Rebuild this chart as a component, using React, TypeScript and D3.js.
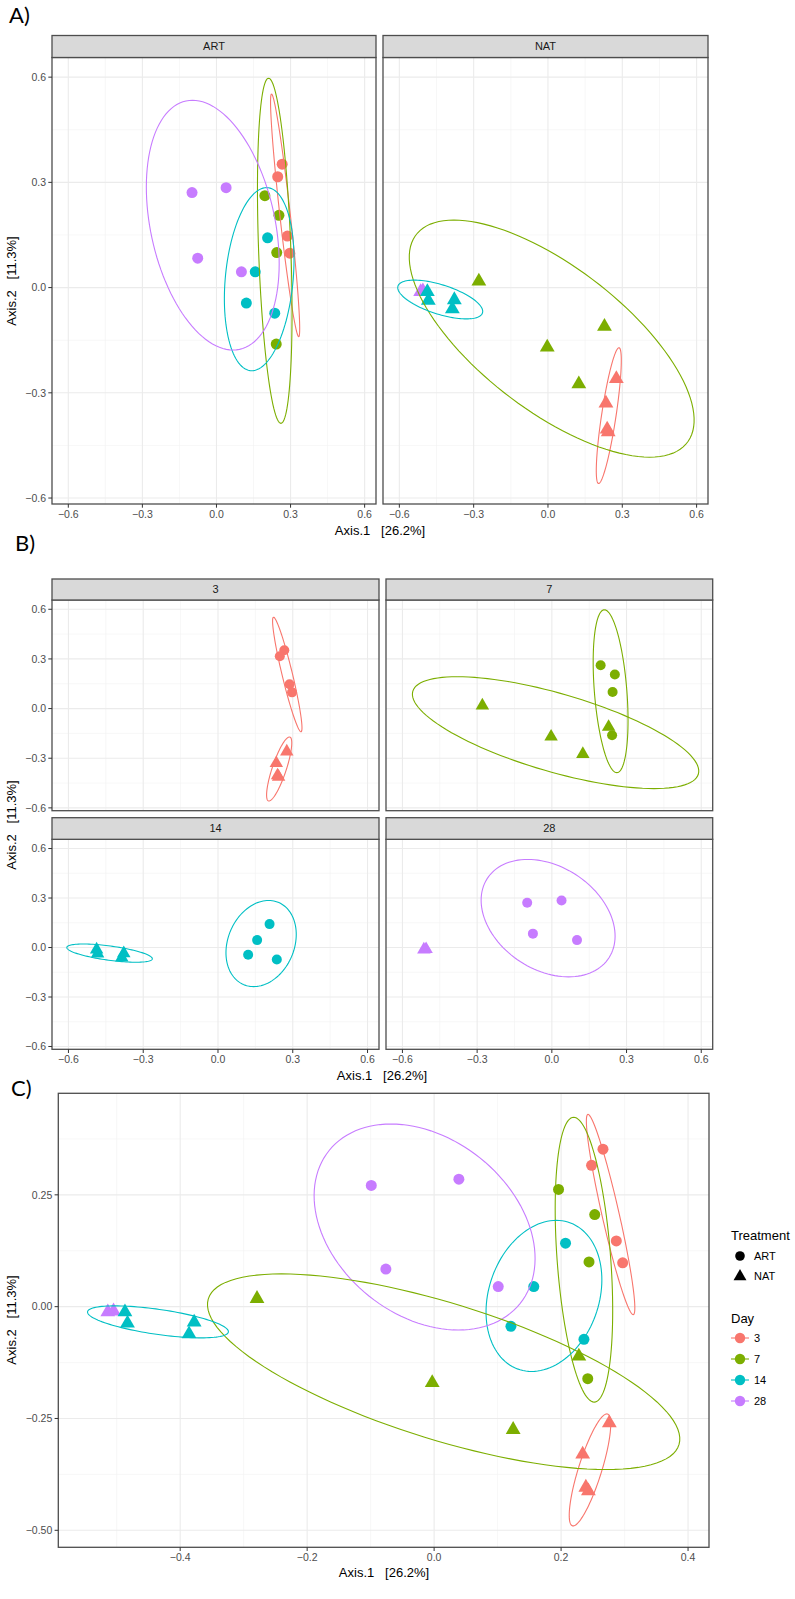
import React from "react";
import * as d3 from "d3";

// ---------- data ----------
const days = [3, 7, 14, 28];
const dayColors = ["#F8766D", "#7CAE00", "#00BFC4", "#C77CFF"];
const treatments = ["ART", "NAT"];

const sampleTreatment = [
  "ART", "ART", "ART", "ART",
  "ART", "ART", "ART", "ART",
  "ART", "ART", "ART", "ART",
  "ART", "ART", "ART", "ART",
  "NAT", "NAT",
  "NAT", "NAT", "NAT", "NAT",
  "NAT", "NAT", "NAT", "NAT",
  "NAT", "NAT", "NAT", "NAT",
];
const sampleDay = [
  3, 3, 3, 3,
  7, 7, 7, 7,
  14, 14, 14, 14,
  28, 28, 28, 28,
  28, 28,
  3, 3, 3, 3,
  7, 7, 7, 7,
  14, 14, 14, 14,
];
const axis1Values = [
  0.266, 0.248, 0.287, 0.297,
  0.196, 0.253, 0.244, 0.242,
  0.207, 0.157, 0.121, 0.236,
  -0.099, 0.039, -0.076, 0.101,
  -0.514, -0.505,
  0.276, 0.234, 0.239, 0.243,
  -0.279, -0.003, 0.1245, 0.228,
  -0.487, -0.483, -0.378, -0.386,
];
const axis2Values = [
  0.352, 0.316, 0.147, 0.098,
  0.262, 0.206, 0.1, -0.161,
  0.142, 0.045, -0.044, -0.073,
  0.271, 0.285, 0.084, 0.045,
  -0.012, -0.01,
  -0.26, -0.33, -0.404, -0.412,
  0.018, -0.17, -0.275, -0.111,
  -0.012, -0.037, -0.035, -0.061,
];

// confidence ellipses (facet panels A/B); panel C uses a lower level -> scaled
const ellipseTreatment = ["ART", "ART", "ART", "ART", "NAT", "NAT", "NAT"];
const ellipseDay = [3, 7, 14, 28, 3, 7, 14];
const ellipseCx = [0.278, 0.236, 0.173, -0.015, 0.2455, 0.015, -0.435];
const ellipseCy = [0.206, 0.105, 0.024, 0.178, -0.365, -0.1455, -0.034];
const ellipseRx = [0.059, 0.07, 0.141, 0.269, 0.0505, 0.575, 0.1715];
const ellipseRy = [0.346, 0.492, 0.261, 0.356, 0.1935, 0.338, 0.0553];
const ellipseTopShift = [-0.055, -0.025, 0.03, -0.082, 0.041, -0.395, -0.105];
const ellipseScaleC = 0.647;

const facetTicks = [-0.6, -0.3, 0, 0.3, 0.6];
const facetXDomain = [-0.666, 0.646];
const facetYDomain = [-0.617, 0.656];
const overallTicksX = [-0.4, -0.2, 0, 0.2, 0.4];
const overallTicksY = [-0.5, -0.25, 0, 0.25];
const overallXDomain = [-0.592, 0.433];
const overallYDomain = [-0.538, 0.477];

const xTitle = "Axis.1   [26.2%]";
const yTitle = "Axis.2   [11.3%]";

// ---------- helpers ----------
const FONT = "'Liberation Sans', Arial, Helvetica, sans-serif";
const LABEL_FONT = "Lato, 'Open Sans', sans-serif";
const colorOf = (day: number) => dayColors[days.indexOf(day)];

function minorTicks(ticks: number[], domain: number[]) {
  const step = ticks[1] - ticks[0];
  const out: number[] = [];
  for (let i = -1; i < ticks.length; i++) {
    const v = (i < 0 ? ticks[0] : ticks[i]) + (i < 0 ? -step / 2 : step / 2);
    if (v > domain[0] && v < domain[1]) out.push(v);
  }
  return out;
}

function Marker({ cx, cy, r, shape, color }: any) {
  if (shape === "ART") return <circle cx={cx} cy={cy} r={r} fill={color} />;
  const rr = r * 1.5551;
  const hb = r * 1.3468;
  const yb = r * 0.7776;
  const d = `M${cx},${cy - rr}L${cx + hb},${cy + yb}L${cx - hb},${cy + yb}Z`;
  return <path d={d} fill={color} />;
}

function ellipsePath(i: number, scale: number, xs: any, ys: any) {
  const cx = ellipseCx[i];
  const cy = ellipseCy[i];
  const rx = ellipseRx[i] * scale;
  const ry = ellipseRy[i] * scale;
  const dx = ellipseTopShift[i] * scale;
  const e = Math.sqrt(Math.max(rx * rx - dx * dx, 0));
  const pts = d3.range(0, 121).map((k) => {
    const t = (k / 120) * 2 * Math.PI;
    return [cx + dx * Math.cos(t) + e * Math.sin(t), cy + ry * Math.cos(t)];
  });
  return d3
    .line<number[]>()
    .x((p) => xs(p[0]))
    .y((p) => ys(p[1]))(pts) as string;
}

function Panel(props: any) {
  const {
    x0, x1, y0, y1, xDomain, yDomain, xTicks, yTicks, xFmt, yFmt,
    showX, showY, strip, stripTop, keep, keepEllipse, ellScale, r,
  } = props;
  const xs = d3.scaleLinear().domain(xDomain).range([x0, x1]);
  const ys = d3.scaleLinear().domain(yDomain).range([y1, y0]);
  const xMinor = minorTicks(xTicks, xDomain);
  const yMinor = minorTicks(yTicks, yDomain);
  const idx = d3.range(axis1Values.length).filter((i) => keep(i));
  const eIdx = d3.range(ellipseCx.length).filter((i) => keepEllipse(i));
  const clipId = `clip-${Math.round(x0)}-${Math.round(y0)}`;
  return (
    <g>
      <defs>
        <clipPath id={clipId}>
          <rect x={x0} y={y0} width={x1 - x0} height={y1 - y0} />
        </clipPath>
      </defs>
      <rect x={x0} y={y0} width={x1 - x0} height={y1 - y0} fill="#fff" />
      {xMinor.map((v) => (
        <line key={"xm" + v} x1={xs(v)} x2={xs(v)} y1={y0} y2={y1} stroke="#F2F2F2" strokeWidth={0.6} />
      ))}
      {yMinor.map((v) => (
        <line key={"ym" + v} x1={x0} x2={x1} y1={ys(v)} y2={ys(v)} stroke="#F2F2F2" strokeWidth={0.6} />
      ))}
      {xTicks.map((v: number) => (
        <line key={"xM" + v} x1={xs(v)} x2={xs(v)} y1={y0} y2={y1} stroke="#EBEBEB" strokeWidth={1.1} />
      ))}
      {yTicks.map((v: number) => (
        <line key={"yM" + v} x1={x0} x2={x1} y1={ys(v)} y2={ys(v)} stroke="#EBEBEB" strokeWidth={1.1} />
      ))}
      <g clipPath={`url(#${clipId})`}>
        {idx.map((i) => (
          <Marker
            key={"p" + i}
            cx={xs(axis1Values[i])}
            cy={ys(axis2Values[i])}
            r={r}
            shape={sampleTreatment[i]}
            color={colorOf(sampleDay[i])}
          />
        ))}
        {eIdx.map((i) => (
          <path
            key={"e" + i}
            d={ellipsePath(i, ellScale, xs, ys)}
            fill="none"
            stroke={colorOf(ellipseDay[i])}
            strokeWidth={1.1}
          />
        ))}
      </g>
      <rect x={x0} y={y0} width={x1 - x0} height={y1 - y0} fill="none" stroke="#4D4D4D" strokeWidth={1.3} />
      {strip && (
        <g>
          <rect x={x0} y={stripTop} width={x1 - x0} height={y0 - stripTop} fill="#D9D9D9" stroke="#4D4D4D" strokeWidth={1.3} />
          <text
            x={(x0 + x1) / 2}
            y={(stripTop + y0) / 2}
            dy="0.36em"
            textAnchor="middle"
            fontFamily={FONT}
            fontSize={11}
            fill="#1A1A1A"
          >
            {strip}
          </text>
        </g>
      )}
      {showX &&
        xTicks.map((v: number) => (
          <g key={"xt" + v}>
            <line x1={xs(v)} x2={xs(v)} y1={y1} y2={y1 + 3.7} stroke="#333" strokeWidth={1} />
            <text x={xs(v)} y={y1 + 14} textAnchor="middle" fontFamily={FONT} fontSize={10.5} fill="#4D4D4D">
              {xFmt(v)}
            </text>
          </g>
        ))}
      {showY &&
        yTicks.map((v: number) => (
          <g key={"yt" + v}>
            <line x1={x0 - 3.7} x2={x0} y1={ys(v)} y2={ys(v)} stroke="#333" strokeWidth={1} />
            <text x={x0 - 6} y={ys(v)} dy="0.36em" textAnchor="end" fontFamily={FONT} fontSize={10.5} fill="#4D4D4D">
              {yFmt(v)}
            </text>
          </g>
        ))}
    </g>
  );
}

function AxisTitles({ xCenter, xBase, yCenter }: any) {
  return (
    <g fontFamily={FONT} fontSize={13} fill="#000">
      <text x={xCenter} y={xBase} textAnchor="middle" style={{ whiteSpace: "pre" }}>
        {xTitle}
      </text>
      <text
        transform={`translate(16,${yCenter}) rotate(-90)`}
        textAnchor="middle"
        style={{ whiteSpace: "pre" }}
      >
        {yTitle}
      </text>
    </g>
  );
}

const f1 = d3.format(".1f");
const f2 = d3.format(".2f");

export default function App() {
  const aCols = [
    [52, 376],
    [383, 708],
  ];
  const bCols = [
    [52, 379],
    [386, 712.7],
  ];
  const bRows = [
    [579, 600, 810.7],
    [817.7, 839.3, 1049.3],
  ];
  const legendItemsY = [1338, 1359, 1380, 1401];
  return (
    <div style={{ position: "absolute", left: 0, top: 0 }}>
      <svg width={795} height={1599} style={{ display: "block", background: "#fff" }}>
        <rect width={795} height={1599} fill="#fff" />
        {/* ---------- A ---------- */}
        <text x={9} y={23} fontFamily={LABEL_FONT} fontSize={22} fill="#000">
          A)
        </text>
        {treatments.map((trt, k) => (
          <Panel
            key={"A" + trt}
            x0={aCols[k][0]}
            x1={aCols[k][1]}
            y0={57.5}
            y1={504}
            stripTop={35.5}
            strip={trt}
            xDomain={facetXDomain}
            yDomain={facetYDomain}
            xTicks={facetTicks}
            yTicks={facetTicks}
            xFmt={f1}
            yFmt={f1}
            showX={true}
            showY={k === 0}
            r={5.5}
            ellScale={1}
            keep={(i: number) => sampleTreatment[i] === trt}
            keepEllipse={(i: number) => ellipseTreatment[i] === trt}
          />
        ))}
        <AxisTitles xCenter={380} xBase={535} yCenter={281} />

        {/* ---------- B ---------- */}
        <text x={15} y={551} fontFamily={LABEL_FONT} fontSize={22} fill="#000">
          B)
        </text>
        {days.map((day, k) => {
          const col = bCols[k % 2];
          const row = bRows[Math.floor(k / 2)];
          return (
            <Panel
              key={"B" + day}
              x0={col[0]}
              x1={col[1]}
              y0={row[1]}
              y1={row[2]}
              stripTop={row[0]}
              strip={String(day)}
              xDomain={facetXDomain}
              yDomain={facetYDomain}
              xTicks={facetTicks}
              yTicks={facetTicks}
              xFmt={f1}
              yFmt={f1}
              showX={k >= 2}
              showY={k % 2 === 0}
              r={5}
              ellScale={1}
              keep={(i: number) => sampleDay[i] === day}
              keepEllipse={(i: number) => ellipseDay[i] === day}
            />
          );
        })}
        <AxisTitles xCenter={382} xBase={1080} yCenter={825} />

        {/* ---------- C ---------- */}
        <text x={11} y={1096} fontFamily={LABEL_FONT} fontSize={22} fill="#000">
          C)
        </text>
        <Panel
          x0={58.3}
          x1={709}
          y0={1093.3}
          y1={1547.3}
          strip={null}
          xDomain={overallXDomain}
          yDomain={overallYDomain}
          xTicks={overallTicksX}
          yTicks={overallTicksY}
          xFmt={f1}
          yFmt={f2}
          showX={true}
          showY={true}
          r={5.5}
          ellScale={ellipseScaleC}
          keep={() => true}
          keepEllipse={() => true}
        />
        <AxisTitles xCenter={384} xBase={1577} yCenter={1320} />

        {/* legend */}
        <g fontFamily={FONT}>
          <text x={731} y={1240} fontSize={13} fill="#000">
            Treatment
          </text>
          {treatments.map((trt, k) => (
            <g key={"lt" + trt}>
              <Marker cx={740} cy={1256 + k * 20.5} r={4.8} shape={trt} color="#000" />
              <text x={754} y={1256 + k * 20.5} dy="0.36em" fontSize={11} fill="#000">
                {trt}
              </text>
            </g>
          ))}
          <text x={731} y={1323} fontSize={13} fill="#000">
            Day
          </text>
          {days.map((day, k) => (
            <g key={"ld" + day}>
              <line x1={731} x2={749} y1={legendItemsY[k]} y2={legendItemsY[k]} stroke={dayColors[k]} strokeWidth={1.1} />
              <circle cx={740} cy={legendItemsY[k]} r={5.2} fill={dayColors[k]} />
              <text x={754} y={legendItemsY[k]} dy="0.36em" fontSize={11} fill="#000">
                {day}
              </text>
            </g>
          ))}
        </g>
      </svg>
    </div>
  );
}
